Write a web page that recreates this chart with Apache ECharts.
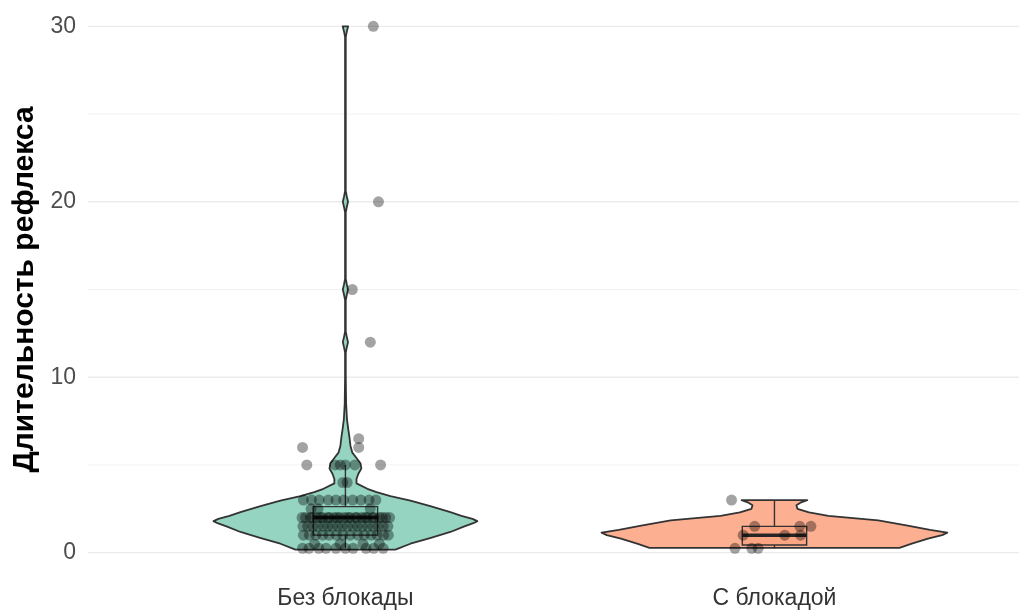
<!DOCTYPE html>
<html><head><meta charset="utf-8">
<script src="https://cdn.jsdelivr.net/npm/echarts@6/dist/echarts.min.js"></script>
<style>html,body{margin:0;padding:0;background:#fff}#c{width:1019px;height:610px}</style>
</head><body><div id="c"></div>
<script>
// ---- data ----
const categories = ['Без блокады', 'С блокадой'];
const yTickLabels = [0, 10, 20, 30];
const minorGrid = [5, 15, 25];

// violin outlines: value -> relative density (half-width)
const violin1Values = [0.17,0.51,0.85,1.18,1.5,1.68,1.8,1.93,2.1,2.31,2.65,2.97,3.22,3.45,3.64,3.95,4.2,4.5,4.8,5.1,5.4,5.7,6.1,6.6,7.0,7.6,8.5,10,11.4,11.7,12,12.3,12.6,14.4,14.7,15,15.3,15.6,19.4,19.7,20,20.3,20.6,29.4,29.7,30];
const violin1Density = [0.289,0.376,0.494,0.607,0.688,0.74,0.763,0.735,0.671,0.607,0.491,0.376,0.26,0.18,0.127,0.064,0.064,0.075,0.092,0.087,0.064,0.04,0.029,0.023,0.017,0.009,0.004,0.002,0.002,0.008,0.015,0.008,0.002,0.002,0.008,0.015,0.008,0.002,0.002,0.008,0.015,0.008,0.002,0.002,0.008,0.016];
const violin2Values = [0.27,0.5,0.8,1.0,1.14,1.3,1.55,1.84,2.1,2.3,2.5,2.7,2.85,3.0];
const violin2Density = [0.723,0.79,0.888,0.97,1.0,0.9,0.763,0.6,0.312,0.2,0.133,0.127,0.15,0.19];

const points1Values = [
  0.25,0.25,0.25,0.25,0.25,0.25,0.25,0.25,0.25,0.25,
  0.5,0.5,0.5,0.5,
  1,1,1,1,1,1,1,1,1,1,1,1,1,1,
  1.5,1.5,1.5,1.5,1.5,1.5,1.5,1.5,1.5,1.5,1.5,1.5,1.5,1.5,1.5,1.5,1.5,1.5,
  2,2,2,2,2,2,2,2,2,2,2,2,2,2,2,2,2,2,2,2,2,2,2,2,2,2,
  2.5,2.5,2.5,
  3,3,3,3,3,3,3,3,3,3,
  4,4,
  5,5,5,5,5,5,
  6,6,6.5,12,15,20,30
];
const points1Jitter = [
  -0.100,-0.085,-0.062,-0.045,-0.022,0.000,0.018,0.048,0.066,0.088,
  -0.072,-0.012,0.041,0.079,
  -0.098,-0.084,-0.069,-0.053,-0.038,-0.021,-0.006,0.011,0.029,0.044,0.060,0.074,0.089,0.100,
  -0.099,-0.088,-0.076,-0.064,-0.052,-0.041,-0.030,-0.018,-0.007,0.005,0.017,0.028,0.040,0.052,0.064,0.076,0.088,0.099,
  -0.101,-0.093,-0.082,-0.077,-0.066,-0.058,-0.053,-0.041,-0.037,-0.026,-0.019,-0.013,-0.002,0.006,0.011,0.023,0.027,0.038,0.046,0.051,0.063,0.067,0.079,0.086,0.094,0.103,
  -0.080,-0.064,0.058,
  -0.098,-0.079,-0.061,-0.040,-0.022,-0.004,0.017,0.036,0.055,0.071,
  -0.006,0.004,
  -0.090,-0.024,-0.012,0.000,0.022,0.082,
  -0.100,0.031,0.031,0.058,0.016,0.077,0.065
];
const points2Values = [3, 1.5, 1.5, 1.5, 1, 1, 1, 0.25, 0.25, 0.25];
const points2Jitter = [-0.100, -0.046, 0.059, 0.085, -0.073, 0.024, 0.061, -0.092, -0.053, -0.038];

// ---- helpers ----
const FONT = '"Liberation Sans", Arial, sans-serif';
const violinFills = ['rgba(102,194,165,0.7)', 'rgba(252,141,98,0.7)'];
const boxFills = ['rgba(102,194,165,0.3)', 'rgba(252,141,98,0.3)'];
const VIOLIN_HALF = 0.403;
const BOX_HALF = 0.075;

function quantile(s, p) {
  const h = (s.length - 1) * p, lo = Math.floor(h), hi = Math.ceil(h);
  return s[lo] + (h - lo) * (s[hi] - s[lo]);
}
function boxStats(vals) {
  const s = vals.slice().sort((a, b) => a - b);
  const q1 = quantile(s, 0.25), med = quantile(s, 0.5), q3 = quantile(s, 0.75);
  const iqr = q3 - q1;
  const lo = s.find(v => v >= q1 - 1.5 * iqr);
  const hi = s.slice().reverse().find(v => v <= q3 + 1.5 * iqr);
  return [lo, q1, med, q3, hi];
}
const violins = [
  { values: violin1Values, density: violin1Density },
  { values: violin2Values, density: violin2Density }
];
const boxes = [boxStats(points1Values), boxStats(points2Values)];
const gridLines = yTickLabels.map(v => [1, v, 1]).concat(minorGrid.map(v => [1, v, 0]));

const chart = echarts.init(document.getElementById('c'), null, { renderer: 'canvas' });
chart.setOption({
  animation: false,
  backgroundColor: '#ffffff',
  grid: { left: 88, top: 0, right: 0, height: 580, containLabel: false },
  xAxis: {
    type: 'value', min: 0.4, max: 2.57,
    axisLine: { show: false }, axisTick: { show: false }, splitLine: { show: false },
    axisLabel: {
      customValues: [1, 2],
      formatter: v => categories[Math.round(v) - 1],
      fontFamily: FONT, fontSize: 23, color: '#333333', margin: 8
    }
  },
  yAxis: {
    type: 'value', min: -1.5, max: 31.5,
    name: 'Длительность рефлекса', nameLocation: 'middle', nameGap: 48,
    nameTextStyle: { fontFamily: FONT, fontSize: 30, fontWeight: 'bold', color: '#000000' },
    axisLine: { show: false }, axisTick: { show: false }, splitLine: { show: false },
    axisLabel: { customValues: yTickLabels, fontFamily: FONT, fontSize: 23, color: '#4d4d4d', margin: 12 }
  },
  series: [
    {
      type: 'custom', z: 0, silent: true, clip: false,
      data: gridLines,
      renderItem: (params, api) => {
        const y = api.coord([1, api.value(1)])[1];
        const cs = params.coordSys;
        const major = api.value(2) === 1;
        return { type: 'line', shape: { x1: cs.x, y1: y, x2: cs.x + cs.width, y2: y },
          style: { stroke: major ? '#ebebeb' : '#f3f3f3', lineWidth: major ? 1.3 : 1 } };
      }
    },
    {
      type: 'custom', z: 2, silent: true,
      data: categories.map((c, i) => [i + 1, 0]),
      renderItem: (params, api) => {
        const i = params.dataIndex, pos = api.value(0), vi = violins[i];
        const right = vi.values.map((v, k) => api.coord([pos + vi.density[k] * VIOLIN_HALF, v]));
        const left = vi.values.map((v, k) => api.coord([pos - vi.density[k] * VIOLIN_HALF, v])).reverse();
        return { type: 'polygon', shape: { points: right.concat(left) },
          style: { fill: violinFills[i], stroke: '#333333', lineWidth: 1.8, lineJoin: 'round' } };
      }
    },
    {
      type: 'custom', z: 3, silent: true,
      data: categories.map((c, i) => [i + 1, 0]),
      renderItem: (params, api) => {
        const i = params.dataIndex, pos = api.value(0), b = boxes[i];
        const pLo = api.coord([pos, b[0]]), pQ1 = api.coord([pos, b[1]]), pMed = api.coord([pos, b[2]]);
        const pQ3 = api.coord([pos, b[3]]), pHi = api.coord([pos, b[4]]);
        const xl = api.coord([pos - BOX_HALF, 0])[0], xr = api.coord([pos + BOX_HALF, 0])[0];
        const st = { stroke: '#333333', lineWidth: 1.4 };
        return { type: 'group', children: [
          { type: 'line', shape: { x1: pQ3[0], y1: pQ3[1], x2: pHi[0], y2: pHi[1] }, style: st },
          { type: 'line', shape: { x1: pQ1[0], y1: pQ1[1], x2: pLo[0], y2: pLo[1] }, style: st },
          { type: 'rect', shape: { x: xl, y: pQ3[1], width: xr - xl, height: pQ1[1] - pQ3[1] },
            style: { fill: boxFills[i], stroke: '#333333', lineWidth: 1.4 } },
          { type: 'line', shape: { x1: xl, y1: pMed[1], x2: xr, y2: pMed[1] }, style: { stroke: '#262626', lineWidth: 3.5 } }
        ] };
      }
    },
    {
      type: 'scatter', z: 4, silent: true, symbolSize: 11,
      itemStyle: { color: 'rgba(0,0,0,0.45)' },
      data: points1Values.map((v, k) => [1 + points1Jitter[k], v])
    },
    {
      type: 'scatter', z: 4, silent: true, symbolSize: 11,
      itemStyle: { color: 'rgba(0,0,0,0.45)' },
      data: points2Values.map((v, k) => [2 + points2Jitter[k], v])
    }
  ]
});
</script></body></html>
